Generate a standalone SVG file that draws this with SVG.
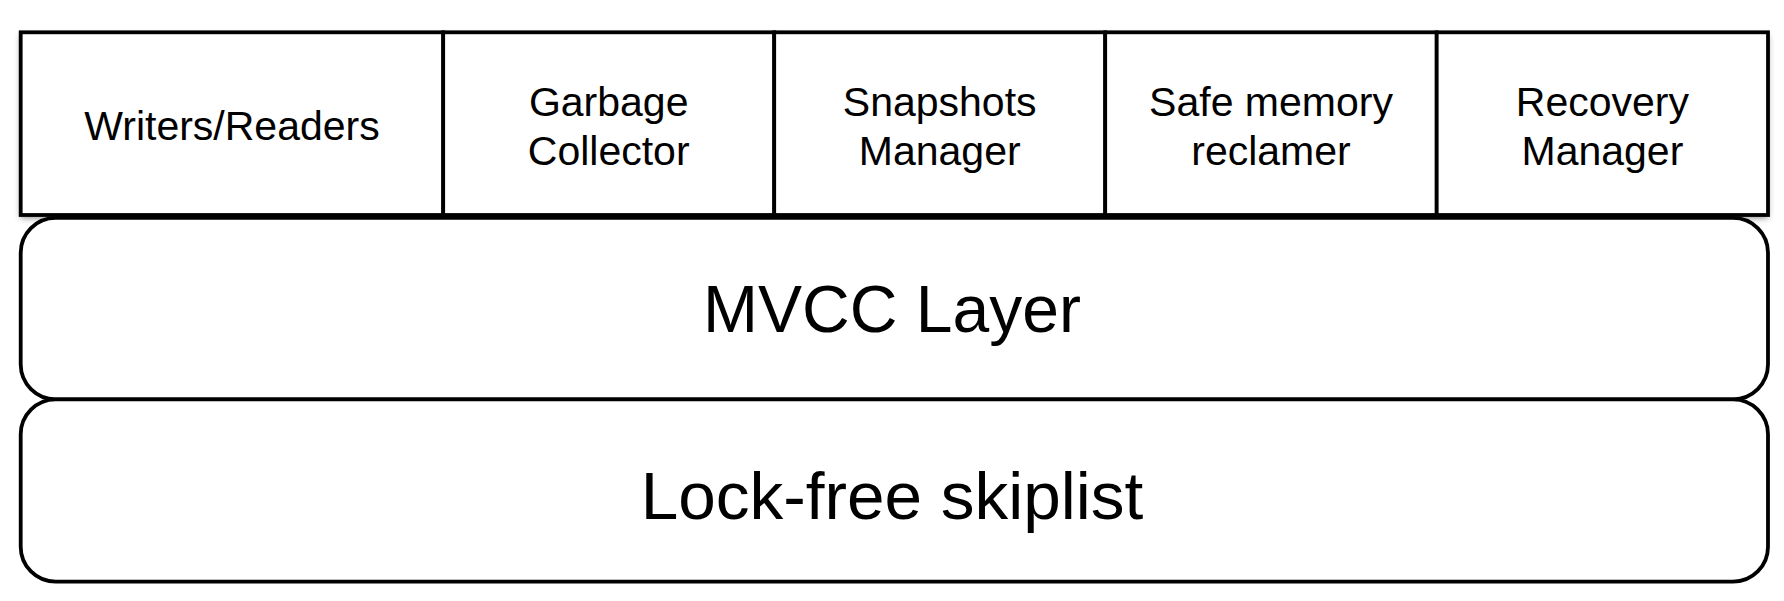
<svg xmlns="http://www.w3.org/2000/svg" width="1784" height="601" viewBox="0 0 1784 601">
<style>
.box{fill:#fff;stroke:#000;stroke-width:3.8}
.t{font-family:"Liberation Sans",Arial,sans-serif;fill:#000;text-anchor:middle}
.s{font-size:41px}
.b{font-size:66px}
.c{font-size:67.5px}
</style>
<defs>
<filter id="sh" x="-5%" y="-10%" width="110%" height="125%">
<feDropShadow dx="0" dy="3" stdDeviation="3" flood-color="#000" flood-opacity="0.45"/>
</filter>
</defs>
<rect width="1784" height="601" fill="#fff"/>
<g id="top-row">
<rect x="20.7" y="32.3" width="1747.3" height="182.7" fill="#fff" filter="url(#sh)"/>
</g>
<g id="writers-readers">
<rect class="box" x="20.7" y="32.3" width="422.5" height="182.7"/>
<text class="t s" x="232" y="140">Writers/Readers</text>
</g>
<g id="garbage-collector">
<rect class="box" x="443.2" y="32.3" width="331" height="182.7"/>
<text class="t s" x="608.7" y="115.5">Garbage</text>
<text class="t s" x="608.7" y="164.5">Collector</text>
</g>
<g id="snapshots-manager">
<rect class="box" x="774.2" y="32.3" width="331" height="182.7"/>
<text class="t s" x="939.7" y="115.5">Snapshots</text>
<text class="t s" x="939.7" y="164.5">Manager</text>
</g>
<g id="safe-memory-reclamer">
<rect class="box" x="1105.2" y="32.3" width="331.5" height="182.7"/>
<text class="t s" x="1271" y="115.5">Safe memory</text>
<text class="t s" x="1271" y="164.5">reclamer</text>
</g>
<g id="recovery-manager">
<rect class="box" x="1436.7" y="32.3" width="331.3" height="182.7"/>
<text class="t s" x="1602.4" y="115.5">Recovery</text>
<text class="t s" x="1602.4" y="164.5">Manager</text>
</g>
<g id="mvcc-layer">
<rect class="box" x="20.7" y="217.8" width="1747.3" height="181.5" rx="35" ry="35"/>
<text class="t b" x="892" y="331.7">MVCC Layer</text>
</g>
<g id="lock-free-skiplist">
<rect class="box" x="20.7" y="399.3" width="1747.3" height="182.4" rx="35" ry="35"/>
<text class="t c" x="892" y="519">Lock-free skiplist</text>
</g>
<g id="connectors"></g>
</svg>
